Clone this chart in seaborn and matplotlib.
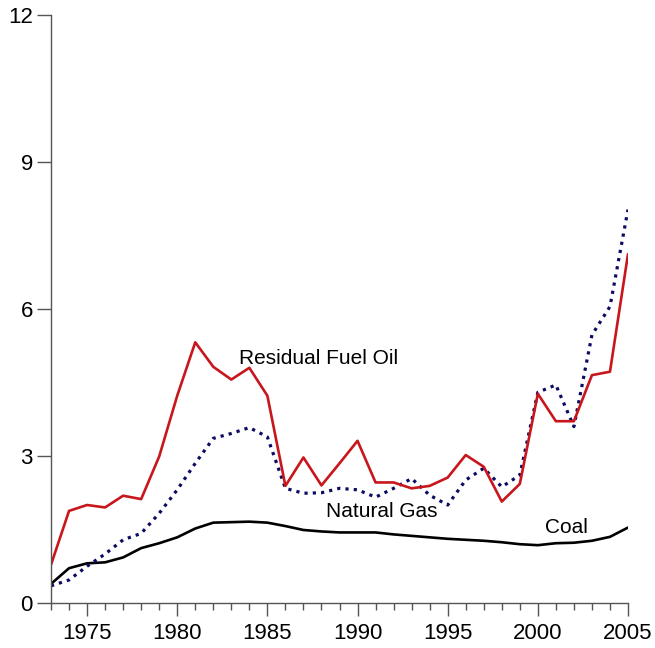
import numpy as np
import pandas as pd
import seaborn as sns
import matplotlib.pyplot as plt
from matplotlib.ticker import MultipleLocator

# data
years = list(range(1973, 2006))
residual_fuel_oil = [0.78, 1.88, 2.00, 1.95, 2.19, 2.12, 2.99, 4.23, 5.32, 4.82,
                     4.56, 4.80, 4.23, 2.39, 2.97, 2.40, 2.85, 3.31, 2.46, 2.46,
                     2.34, 2.39, 2.56, 3.02, 2.78, 2.07, 2.43, 4.27, 3.71, 3.71,
                     4.65, 4.72, 7.12]
natural_gas = [0.35, 0.47, 0.75, 1.00, 1.29, 1.42, 1.83, 2.31, 2.85, 3.36,
               3.46, 3.58, 3.39, 2.34, 2.24, 2.25, 2.34, 2.31, 2.16, 2.34,
               2.54, 2.20, 2.00, 2.51, 2.75, 2.37, 2.61, 4.30, 4.45, 3.60,
               5.47, 6.05, 8.03]
coal = [0.39, 0.71, 0.81, 0.83, 0.93, 1.12, 1.22, 1.34, 1.52, 1.64,
        1.65, 1.66, 1.64, 1.57, 1.49, 1.46, 1.44, 1.44, 1.44, 1.40,
        1.37, 1.34, 1.31, 1.29, 1.27, 1.24, 1.20, 1.18, 1.22, 1.23,
        1.27, 1.35, 1.54]

y_ticks = [0, 3, 6, 9, 12]
x_ticks = [1975, 1980, 1985, 1990, 1995, 2000, 2005]

df = pd.DataFrame({
    "year": years,
    "Residual Fuel Oil": residual_fuel_oil,
    "Natural Gas": natural_gas,
    "Coal": coal,
})

sns.set_style("ticks")
plt.rcParams["font.family"] = ["Liberation Sans", "DejaVu Sans"]
plt.rcParams["text.color"] = "black"
plt.rcParams["xtick.labelcolor"] = "black"
plt.rcParams["ytick.labelcolor"] = "black"

fig = plt.figure(figsize=(6.55, 6.48), dpi=100)
ax = fig.add_axes([51 / 655, 45 / 648, 577 / 655, 588 / 648])

sns.lineplot(data=df, x="year", y="Coal", color="black", lw=1.9, ax=ax)
sns.lineplot(data=df, x="year", y="Natural Gas", color="#0b0b62", lw=2.3,
             linestyle=(0, (1, 1.6)), ax=ax)
sns.lineplot(data=df, x="year", y="Residual Fuel Oil", color="#c8161d", lw=1.9, ax=ax)

ax.set_xlim(1973, 2005)
ax.set_ylim(0, 12)
ax.set_xticks(x_ticks)
ax.set_yticks(y_ticks)
ax.xaxis.set_minor_locator(MultipleLocator(1))
ax.set_xlabel("")
ax.set_ylabel("")

sns.despine(ax=ax)
for side in ["left", "bottom"]:
    ax.spines[side].set_color("#555555")
    ax.spines[side].set_linewidth(1.0)
ax.tick_params(axis="y", length=10, width=1, color="#555555", labelsize=16,
               labelcolor="black", pad=3)
ax.tick_params(axis="x", which="major", length=9.5, width=1, color="#555555",
               labelsize=16, labelcolor="black", pad=5)
ax.tick_params(axis="x", which="minor", length=5, width=1, color="#555555")

# in-chart series labels
ax.text(1983.45, 5.0, "Residual Fuel Oil", fontsize=15, va="center", ha="left", color="black")
ax.text(1988.25, 1.86, "Natural Gas", fontsize=15, va="center", ha="left", color="black")
ax.text(2000.4, 1.55, "Coal", fontsize=15, va="center", ha="left", color="black")

fig.savefig("out.png", dpi=100)
